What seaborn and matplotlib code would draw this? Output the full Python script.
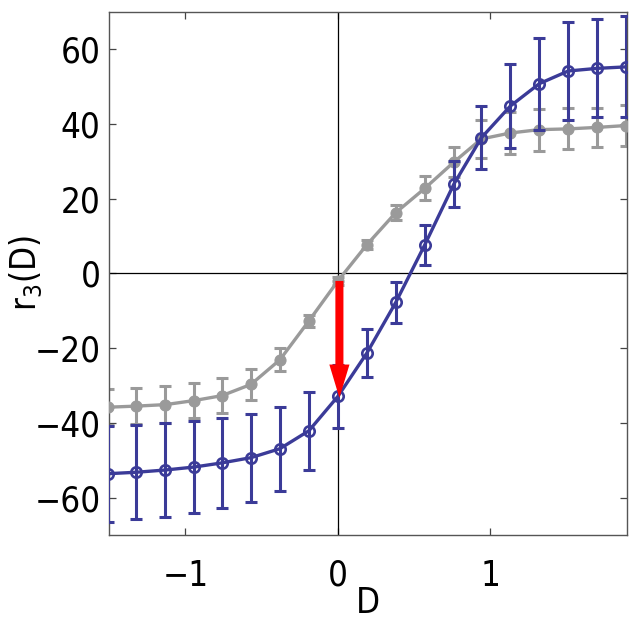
import matplotlib
matplotlib.use("Agg")
import matplotlib.pyplot as plt
from matplotlib import font_manager
import seaborn as sns
import numpy as np
import pandas as pd

# ---- data ----
x_vals = [-1.51, -1.32, -1.13, -0.94, -0.76, -0.57, -0.38, -0.19, 0.0, 0.19,
          0.38, 0.57, 0.76, 0.94, 1.13, 1.32, 1.51, 1.70, 1.89]
gray_vals = [-35.8, -35.5, -35.1, -34.0, -32.7, -29.7, -23.1, -12.7, -2.0, 7.7,
             16.3, 22.8, 29.8, 36.0, 37.6, 38.5, 38.7, 39.1, 39.6]
gray_err = [4.8, 4.9, 4.9, 4.7, 4.6, 4.1, 3.1, 1.5, 1.0, 1.2,
            2.0, 3.2, 4.0, 5.0, 5.6, 5.6, 5.5, 5.3, 5.4]
blue_vals = [-53.6, -53.2, -52.6, -51.8, -50.7, -49.3, -46.9, -42.1, -32.9, -21.3,
             -7.7, 7.7, 23.9, 36.3, 44.8, 50.8, 54.2, 54.9, 55.3]
blue_err = [12.8, 12.6, 12.5, 12.2, 12.1, 11.8, 11.2, 10.4, 8.4, 6.5,
            5.5, 5.3, 6.2, 8.4, 11.3, 12.3, 13.0, 13.1, 13.5]
x_ticks = [-1, 0, 1]
y_ticks = [-60, -40, -20, 0, 20, 40, 60]
arrow_start = -2.0
arrow_end = -33.3

sns.set_style("ticks")
names = {f.name for f in font_manager.fontManager.ttflist}
if "Liberation Sans Narrow" in names:
    fam = ["Liberation Sans Narrow", "DejaVu Sans"]
    stretch = "normal"
else:
    fam = ["DejaVu Sans"]
    stretch = "condensed"
plt.rcParams["font.family"] = fam
plt.rcParams["font.stretch"] = stretch
for k in ["text.color", "axes.labelcolor", "xtick.labelcolor", "ytick.labelcolor"]:
    plt.rcParams[k] = "black"

BLUE = "#3b3b98"
GRAY = "#9a9a9a"

fig = plt.figure(figsize=(6.35, 6.19), dpi=100)
ax = fig.add_axes([0.1717, 0.1357, 0.8157, 0.845])

df = pd.DataFrame({"D": x_vals + x_vals,
                   "r": gray_vals + blue_vals,
                   "grp": ["gray"] * len(x_vals) + ["blue"] * len(x_vals)})

ax.axhline(0, color="black", lw=0.9, zorder=1)
ax.axvline(0, color="black", lw=0.9, zorder=1)

# gray series
ax.errorbar(x_vals, gray_vals, yerr=gray_err, fmt="none", ecolor=GRAY,
            elinewidth=2.2, capsize=4.5, capthick=2.2, zorder=2)
sns.lineplot(data=df[df.grp == "gray"], x="D", y="r", ax=ax, color=GRAY,
             lw=2.4, marker="o", markersize=8, markerfacecolor=GRAY,
             markeredgecolor=GRAY, sort=False, zorder=3)
# blue series
ax.errorbar(x_vals, blue_vals, yerr=blue_err, fmt="none", ecolor=BLUE,
            elinewidth=2.2, capsize=4.5, capthick=2.2, zorder=4)
sns.lineplot(data=df[df.grp == "blue"], x="D", y="r", ax=ax, color=BLUE,
             lw=2.4, marker="o", markersize=7.5, markerfacecolor="none",
             markeredgecolor=BLUE, markeredgewidth=1.9, sort=False, zorder=5)

ax.annotate("", xy=(0.01, arrow_end), xytext=(0.01, arrow_start),
            arrowprops=dict(arrowstyle="simple,head_length=24,head_width=14.5,tail_width=5.8",
                            mutation_scale=1, color="red", lw=0,
                            shrinkA=0, shrinkB=0), zorder=6)

ax.set_xlim(-1.5, 1.895)
ax.set_ylim(-70, 70)
ax.set_xticks(x_ticks)
ax.set_yticks(y_ticks)
ax.set_xticklabels([f"{t}".replace("-", "\u2212") for t in x_ticks])
ax.set_yticklabels([f"{t}".replace("-", "\u2212") for t in y_ticks])
ax.tick_params(direction="in", top=True, right=True, length=5, width=0.9,
               labelsize=25, color="#444444", labelcolor="black")
ax.tick_params(axis="x", pad=17)
ax.tick_params(axis="y", pad=6)
for s in ax.spines.values():
    s.set_visible(True)
    s.set_color("#555555")
    s.set_linewidth(1.0)

ax.set_xlabel("D", fontsize=25, color="black")
ax.set_ylabel("r$_3$(D)", fontsize=25, color="black")
ax.xaxis.set_label_coords(0.5, -0.098)
ax.yaxis.set_label_coords(-0.125, 0.5)
leg = ax.get_legend()
if leg:
    leg.remove()

fig.savefig("out.png", dpi=100)
